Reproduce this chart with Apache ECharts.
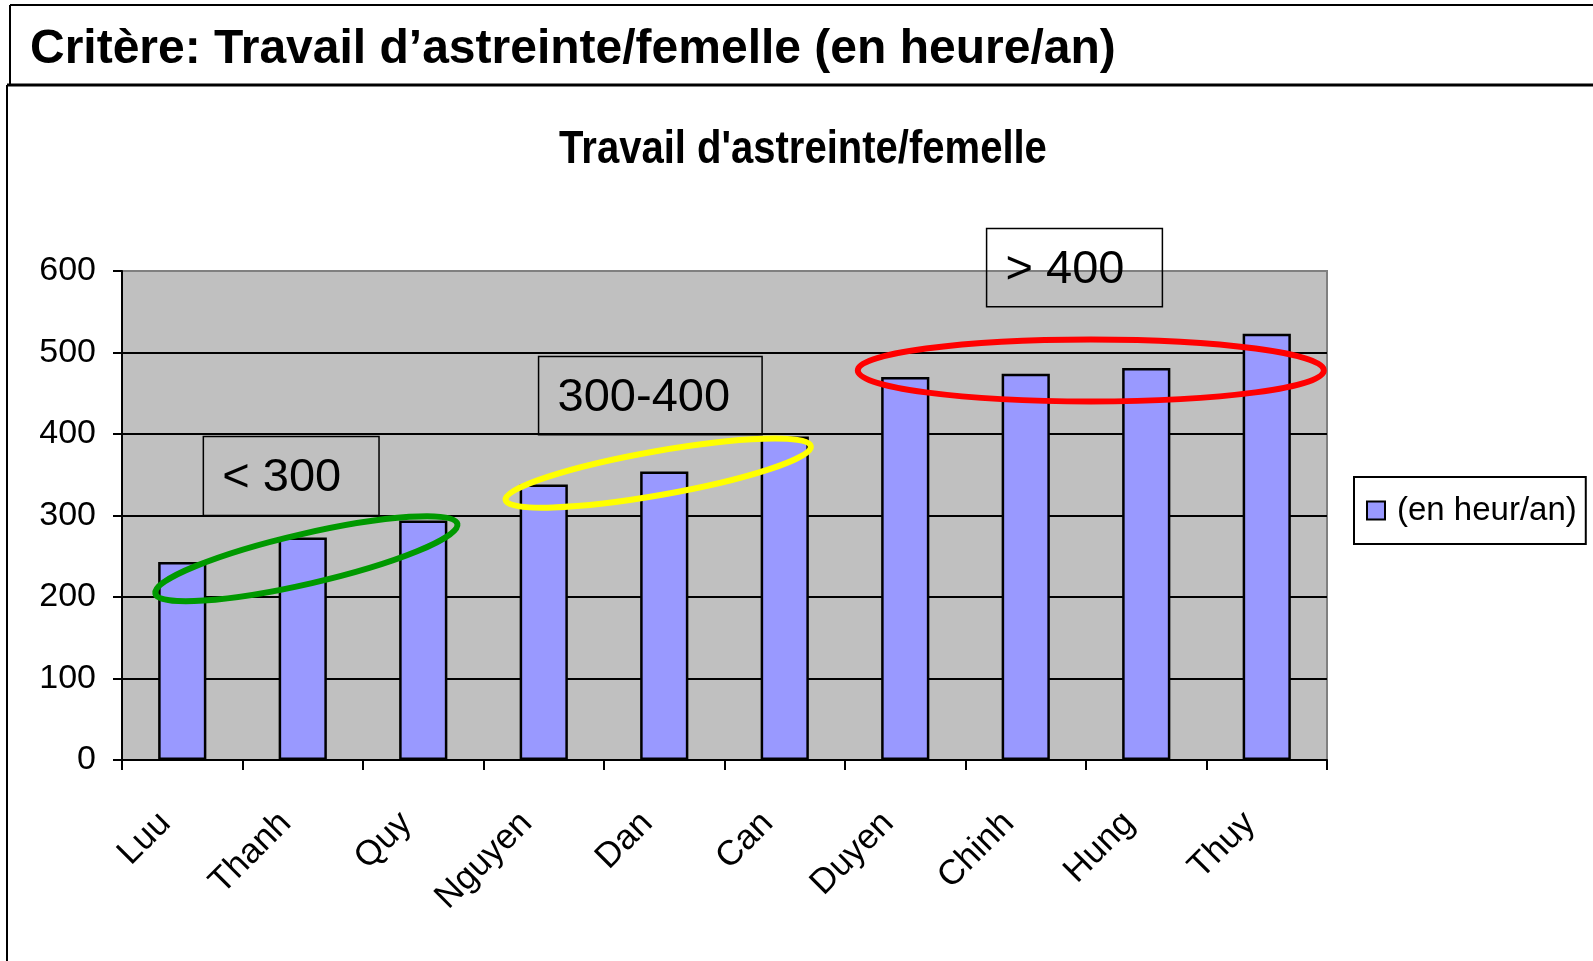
<!DOCTYPE html>
<html><head><meta charset="utf-8">
<script src="https://cdn.jsdelivr.net/npm/echarts@6/dist/echarts.min.js"></script>
<style>html,body{margin:0;padding:0;background:#fff;overflow:hidden}#c{width:1593px;height:961px}</style>
</head><body><div id="c"></div>
<script>
// ---- data ----
const categories = ['Luu', 'Thanh', 'Quy', 'Nguyen', 'Dan', 'Can', 'Duyen', 'Chinh', 'Hung', 'Thuy'];
const values = [243, 273, 294, 338, 354, 397, 470, 474, 481, 523];
const yTicks = [0, 100, 200, 300, 400, 500, 600];
const seriesName = '(en heur/an)';
const headerTitle = 'Critère: Travail d’astreinte/femelle (en heure/an)';
const chartTitle = "Travail d'astreinte/femelle";
const groupLabels = ['< 300', '300-400', '> 400'];

const FONT = '"Liberation Sans", Arial, sans-serif';
const chart = echarts.init(document.getElementById('c'), null, {renderer: 'canvas'});

const splitColors = yTicks.map((t, i) => i === yTicks.length - 1 ? '#808080' : '#000');

chart.setOption({
  backgroundColor: '#ffffff',
  animation: false,
  legend: {
    left: 1354, top: 477,
    padding: [17, 9, 17, 12],
    borderColor: '#000', borderWidth: 2,
    itemWidth: 18, itemHeight: 18, icon: 'rect',
    textStyle: {fontFamily: FONT, fontSize: 33, color: '#000', padding: [0, 0, 0, 7]},
    data: [seriesName]
  },
  grid: {
    left: 122, right: 266, top: 271, bottom: 201,
    show: true, backgroundColor: '#C0C0C0', borderColor: '#808080', borderWidth: 2,
    containLabel: false
  },
  xAxis: {
    type: 'category', data: categories,
    boundaryGap: true,
    axisLine: {show: true, lineStyle: {color: '#000', width: 2}},
    axisTick: {show: true, alignWithLabel: false, length: 10, lineStyle: {color: '#000', width: 2}},
    axisLabel: {rotate: 45, margin: 41, interval: 0, padding: [0, 24, 0, 0], fontFamily: FONT, fontSize: 35, color: '#000'},
    splitLine: {show: false}
  },
  yAxis: {
    type: 'value', min: yTicks[0], max: yTicks[yTicks.length - 1], interval: 100,
    axisLine: {show: true, lineStyle: {color: '#000', width: 2}},
    axisTick: {show: true, length: 9, lineStyle: {color: '#000', width: 2}},
    axisLabel: {margin: 26, fontFamily: FONT, fontSize: 34, color: '#000'},
    splitLine: {show: true, lineStyle: {color: splitColors, width: 2}}
  },
  series: [{
    name: seriesName, type: 'bar', data: values, barWidth: '40%',
    itemStyle: {color: '#9999FF', borderColor: '#000', borderWidth: 2.5}
  }]
});

// ---- annotations anchored to the axes ----
function px(idx, val) {
  const p0 = chart.convertToPixel({gridIndex: 0}, [0, val]);
  const p1 = chart.convertToPixel({gridIndex: 0}, [1, val]);
  return [p0[0] + (p1[0] - p0[0]) * idx, p0[1]];
}
const boxes = [
  {text: groupLabels[0], x0: 0.175, x1: 1.633, yTop: 397, yBot: 300},
  {text: groupLabels[1], x0: 2.957, x1: 4.812, yTop: 495, yBot: 399},
  {text: groupLabels[2], x0: 6.675, x1: 8.134, yTop: 652, yBot: 556}
];
const ellipses = [
  {cx: 1.03, cy: 247, rx: 155, ry: 25, rot: 13, color: '#009900'},
  {cx: 3.95, cy: 352, rx: 155, ry: 22, rot: 10, color: '#FFFF00'},
  {cx: 7.54, cy: 478, rx: 233, ry: 31, rot: 0, color: '#FF0000'}
];
const g = [];
// frames
g.push({type: 'line', shape: {x1: 10, y1: 5, x2: 1593, y2: 5}, style: {stroke: '#000', lineWidth: 2}});
g.push({type: 'line', shape: {x1: 10, y1: 5, x2: 10, y2: 84}, style: {stroke: '#000', lineWidth: 2}});
g.push({type: 'line', shape: {x1: 7, y1: 85, x2: 1593, y2: 85}, style: {stroke: '#000', lineWidth: 3}});
g.push({type: 'line', shape: {x1: 7, y1: 85, x2: 7, y2: 961}, style: {stroke: '#000', lineWidth: 2}});
g.push({type: 'text', x: 30, y: 50, style: {text: headerTitle, font: 'bold 48px ' + FONT, fill: '#000', verticalAlign: 'middle', align: 'left'}});
g.push({type: 'text', x: 803, y: 150, scaleX: 0.87, style: {text: chartTitle, font: 'bold 46px ' + FONT, fill: '#000', verticalAlign: 'middle', align: 'center'}});
boxes.forEach(b => {
  const a = px(b.x0, b.yTop), c = px(b.x1, b.yBot);
  g.push({type: 'rect', z: 100, shape: {x: a[0], y: a[1], width: c[0] - a[0], height: c[1] - a[1]}, style: {fill: 'none', stroke: '#000', lineWidth: 1.5}});
  g.push({type: 'text', z: 101, x: a[0] + 19, y: (a[1] + c[1]) / 2 + 2, style: {text: b.text, font: '47px ' + FONT, fill: '#000', verticalAlign: 'middle', align: 'left'}});
});
ellipses.forEach(e => {
  const c = px(e.cx, e.cy);
  g.push({type: 'ellipse', z: 102, x: c[0], y: c[1], rotation: e.rot * Math.PI / 180, shape: {cx: 0, cy: 0, rx: e.rx, ry: e.ry}, style: {fill: 'none', stroke: e.color, lineWidth: 6}});
});
chart.setOption({graphic: g});
</script></body></html>
